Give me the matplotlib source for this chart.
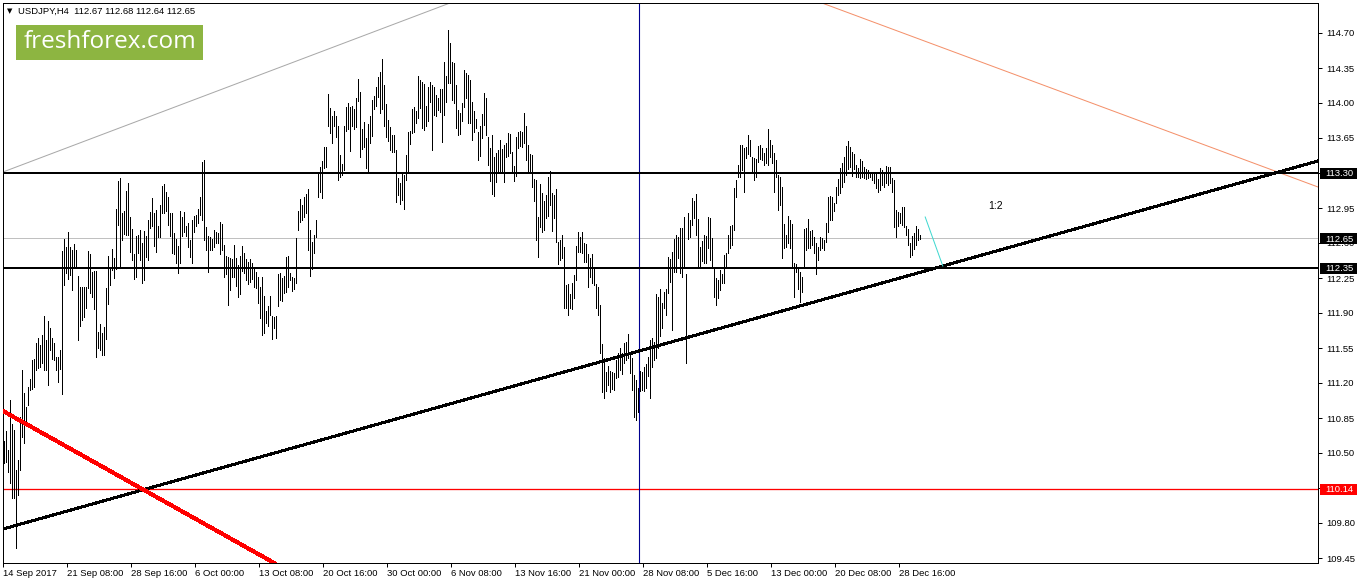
import matplotlib
matplotlib.use('Agg')
import matplotlib.pyplot as plt
from matplotlib.patches import Rectangle
import numpy as np

W, H, DPI = 1358, 584, 100

# ---- H4 bars (high / low) ----
bar_high = [
 110.62,110.72,110.53,111.03,110.79,110.73,110.33,110.43,110.86,111.33,
 111.10,110.96,111.16,111.24,111.43,111.44,111.60,111.65,111.58,111.68,
 111.87,111.63,111.82,111.75,111.65,111.60,111.46,111.46,111.53,112.52,
 112.64,112.56,112.71,112.56,112.53,112.59,112.53,112.27,112.16,112.16,
 112.16,112.16,112.52,112.49,112.31,112.32,112.32,111.71,111.79,111.70,
 111.76,112.15,112.47,112.36,112.54,112.45,112.94,113.22,113.25,112.90,
 112.92,113.12,113.20,112.86,112.74,112.49,112.67,112.68,112.73,112.60,
 112.72,112.67,112.83,112.91,113.05,112.90,112.93,112.77,112.98,113.17,
 113.19,113.11,113.06,112.90,112.90,112.70,112.64,112.57,112.92,112.86,
 112.91,112.77,112.80,112.63,112.83,112.87,112.88,112.94,113.06,113.41,
 113.43,112.76,112.67,112.66,112.64,112.73,112.71,112.70,112.81,112.79,
 112.58,112.47,112.46,112.45,112.44,112.58,
 112.45,112.38,112.47,112.57,112.50,112.44,112.41,112.44,112.40,112.35,
 112.31,112.26,112.16,112.26,112.07,111.92,111.97,112.07,111.87,111.86,
 111.87,112.29,112.30,112.25,112.27,112.46,112.47,112.30,112.26,112.25,
 112.65,112.92,113.04,112.98,113.06,113.09,113.14,112.73,112.61,112.68,
 112.83,113.31,113.36,113.42,113.56,113.56,114.09,113.95,113.87,113.92,
 113.87,113.77,113.48,113.39,113.77,113.96,114.00,113.96,113.97,113.94,
 114.05,114.24,114.11,113.74,113.81,113.65,113.79,113.87,114.03,114.07,
 114.16,114.26,114.31,114.44,114.18,113.99,113.83,113.76,113.68,113.68,
 113.53,113.25,113.20,113.30,113.28,113.48,113.71,113.72,113.94,113.96,
 113.92,114.27,114.23,114.21,114.19,113.97,114.16,114.21,114.18,114.16,
 114.08,114.05,114.14,114.14,114.41,114.27,114.73,114.60,114.41,114.40,
 114.18,113.93,113.90,114.00,114.33,114.30,114.28,114.23,
 114.01,113.92,113.84,113.71,113.77,113.89,114.10,114.05,113.66,113.55,
 113.68,113.46,113.50,113.53,113.63,113.54,113.58,113.60,113.70,113.69,
 113.51,113.37,113.66,113.71,113.72,113.71,113.90,113.77,113.58,113.49,
 113.48,113.24,113.23,112.86,113.19,113.10,113.02,113.08,113.26,113.32,
 113.10,113.08,113.14,112.61,112.63,112.68,112.56,112.18,112.19,112.09,
 112.20,112.28,112.57,112.71,112.66,112.71,112.60,112.59,112.49,112.45,
 112.49,112.35,112.19,112.16,111.98,111.59,111.45,111.31,111.37,111.32,
 111.31,111.30,111.43,111.50,111.55,111.50,111.60,111.61,111.69,111.50,
 111.45,111.28,111.23,111.15,111.32,111.31,111.36,111.39,111.46,111.63,
 111.65,111.61,112.09,112.06,112.14,112.00,112.11,112.14,112.46,112.44,
 112.51,112.64,112.68,112.66,112.75,112.75,112.86,112.29,112.90,112.83,
 113.05,113.02,113.09,112.84,112.56,112.62,112.68,112.67,
 112.86,112.85,112.65,112.36,112.25,112.23,112.33,112.29,112.48,112.50,
 112.68,112.77,112.78,113.15,113.23,113.38,113.58,113.58,113.55,113.56,
 113.68,113.63,113.46,113.45,113.44,113.57,113.58,113.55,113.50,113.55,
 113.74,113.63,113.58,113.50,113.43,113.28,113.26,113.16,112.79,112.68,
 112.87,112.83,112.79,112.40,112.39,112.36,112.31,112.26,112.74,112.75,
 112.84,112.72,112.73,112.66,112.60,112.56,112.66,112.65,112.63,112.80,
 113.06,113.07,113.06,113.00,113.16,113.24,113.35,113.40,113.46,113.57,
 113.62,113.56,113.51,113.49,113.38,113.35,113.44,113.42,113.36,113.34,
 113.33,113.31,113.31,113.30,113.29,113.24,113.35,113.33,113.30,113.37,
 113.36,113.36,113.25,113.23,112.93,112.91,112.90,112.96,112.96,112.77,
 112.74,112.60,112.67,112.70,112.77,112.74,112.68,
]
bar_low = [
 110.40,110.41,110.31,110.20,110.05,110.05,109.55,110.08,110.33,110.66,
 110.60,110.82,110.98,111.13,111.14,111.16,111.33,111.35,111.36,111.40,
 111.33,111.33,111.18,111.53,111.44,111.43,111.33,111.21,111.34,111.09,
 112.18,112.30,112.24,112.28,112.13,112.36,112.35,111.63,111.77,111.83,
 111.86,111.95,112.15,112.10,112.06,111.94,111.46,111.55,111.53,111.48,
 111.48,111.64,111.99,112.18,112.33,112.25,112.34,112.78,112.36,112.63,
 112.69,112.68,112.68,112.51,112.43,112.24,112.26,112.50,112.43,112.20,
 112.23,112.46,112.43,112.75,112.77,112.57,112.51,112.66,112.66,112.90,
 112.90,112.92,112.78,112.67,112.50,112.49,112.40,112.30,112.40,112.67,
 112.71,112.67,112.56,112.46,112.40,112.71,112.77,112.80,112.88,112.83,
 112.63,112.53,112.31,112.53,112.53,112.56,112.60,112.60,112.49,112.53,
 112.26,112.29,111.98,112.13,112.26,112.26,
 112.17,112.06,112.09,112.32,112.30,112.23,112.19,112.21,112.24,112.16,
 112.15,112.00,111.85,111.68,111.70,111.80,111.77,111.88,111.64,111.75,
 111.65,111.97,112.03,112.02,112.10,112.11,112.16,112.23,112.12,112.14,
 112.20,112.73,112.81,112.83,112.86,112.90,112.53,112.27,112.34,112.50,
 112.66,113.06,113.11,113.05,113.35,113.36,113.77,113.70,113.60,113.77,
 113.66,113.23,113.26,113.28,113.33,113.72,113.74,113.52,113.77,113.74,
 113.76,114.02,113.46,113.54,113.56,113.35,113.32,113.60,113.67,113.94,
 113.97,114.06,113.90,113.94,113.77,113.66,113.62,113.53,113.51,113.51,
 113.01,113.08,112.99,113.03,112.94,113.23,113.31,113.59,113.70,113.71,
 113.80,113.85,113.95,113.75,113.73,113.77,113.82,114.01,113.53,113.88,
 113.87,113.93,113.91,113.61,113.88,114.01,114.20,114.20,114.03,114.00,
 113.75,113.68,113.69,113.82,113.96,114.05,113.80,113.80,
 113.63,113.71,113.75,113.43,113.47,113.65,113.78,113.68,113.38,113.22,
 113.09,113.07,113.21,113.31,113.31,113.31,113.21,113.46,113.47,113.50,
 113.31,113.22,113.27,113.55,113.57,113.56,113.60,113.43,113.31,113.30,
 113.16,113.02,112.63,112.46,112.76,112.71,112.73,112.85,112.87,112.98,
 112.72,112.85,112.61,112.39,112.43,112.45,111.95,111.95,111.88,111.95,
 111.94,112.05,112.23,112.51,112.51,112.50,112.41,112.41,112.16,112.26,
 112.20,112.18,111.95,111.88,111.50,111.11,111.05,111.12,111.18,111.11,
 111.14,111.13,111.25,111.26,111.33,111.29,111.40,111.43,111.45,111.30,
 111.13,110.86,110.83,110.91,111.12,111.13,111.12,111.15,111.27,111.05,
 111.36,111.43,111.45,111.55,111.67,111.75,111.95,111.88,112.10,112.21,
 111.73,112.31,112.31,112.45,112.30,112.26,112.35,111.40,112.64,112.66,
 112.78,112.85,112.68,112.36,112.36,112.42,112.40,112.40,
 112.55,112.43,112.35,112.06,111.98,112.05,112.13,112.20,112.20,112.35,
 112.50,112.55,112.58,112.73,113.06,113.26,113.26,113.33,113.11,113.45,
 113.49,113.47,113.30,113.23,113.26,113.41,113.44,113.43,113.38,113.40,
 113.38,113.46,113.40,113.11,113.26,112.93,112.98,112.45,112.55,112.56,
 112.60,112.55,112.36,112.06,112.31,112.14,112.01,112.11,112.36,112.53,
 112.55,112.55,112.58,112.50,112.29,112.43,112.53,112.55,112.53,112.61,
 112.71,112.83,112.83,112.92,113.00,113.08,113.10,113.16,113.21,113.28,
 113.34,113.36,113.27,113.34,113.26,113.26,113.25,113.26,113.25,113.24,
 113.25,113.26,113.23,113.20,113.15,113.11,113.13,113.18,113.16,113.20,
 113.18,113.20,113.11,112.76,112.66,112.77,112.80,112.78,112.76,112.68,
 112.58,112.46,112.48,112.54,112.58,112.63,112.64,
]

date_labels = ['14 Sep 2017', '21 Sep 08:00', '28 Sep 16:00', '6 Oct 00:00',
               '13 Oct 08:00', '20 Oct 16:00', '30 Oct 00:00', '6 Nov 08:00',
               '13 Nov 16:00', '21 Nov 00:00', '28 Nov 08:00', '5 Dec 16:00',
               '13 Dec 00:00', '20 Dec 08:00', '28 Dec 16:00']
bars_per_label = 32
price_ticks = [114.70, 114.35, 114.00, 113.65, 113.30, 112.95, 112.60, 112.25,
               111.90, 111.55, 111.20, 110.85, 110.50, 110.15, 109.80, 109.45]

levels_black = [113.30, 112.35]
last_price = 112.65
level_red = 110.14
trend_black = [(-0.5, 109.74), (657.0, 113.42)]
trend_red = [(-0.5, 110.92), (115.5, 109.62)]
trend_gray = [(-0.5, 113.31), (223.0, 115.00)]
trend_orange = [(409.0, 115.00), (657.0, 113.16)]
seg_cyan = [(460.6, 112.86), (469.4, 112.37)]
vline_bar = 317.5
ratio_text = ('1:2', 492.0, 112.97)
header = 'USDJPY,H4  112.67 112.68 112.64 112.65'
marks = [(113.30, 'black'), (112.65, 'black'), (112.35, 'black'), (110.14, '#ff0000')]

plt.rcParams['font.family'] = ['Liberation Sans', 'DejaVu Sans']
FS = 6.8
PX = 72.0 / DPI

fig = plt.figure(figsize=(W / DPI, H / DPI), dpi=DPI)
fig.patch.set_facecolor('white')
ax = fig.add_axes([3 / W, 21 / H, 1315 / W, 560 / H])
ax.set_facecolor('white')

n = min(len(bar_high), len(bar_low))
xs = np.arange(n)
ax.set_xlim(-0.5, 657.0)
ax.set_ylim(109.40, 115.00)

# drawn objects
ax.axline(trend_gray[0], trend_gray[1], color='#a8a8a8', lw=PX, zorder=1)
ax.axline(trend_orange[0], trend_orange[1], color='#f4906a', lw=PX, zorder=1)
ax.axhline(last_price, color='#c0c0c0', lw=PX, zorder=1)
ax.axhline(level_red, color='#ff0000', lw=1.3 * PX, zorder=1)
ax.axvline(vline_bar, color='#000090', lw=1.1 * PX, zorder=1)

ax.vlines(xs, bar_low[:n], bar_high[:n], colors='black', linewidth=PX,
          antialiased=False, zorder=2)

for lv in levels_black:
    ax.axhline(lv, color='black', lw=2 * PX, zorder=3, antialiased=False)
ax.axline(trend_black[0], trend_black[1], color='black', lw=2 * PX, zorder=3, antialiased=False)
ax.axline(trend_red[0], trend_red[1], color='#ff0000', lw=3 * PX, zorder=3, antialiased=False)
ax.plot([p[0] for p in seg_cyan], [p[1] for p in seg_cyan], color='#3fd8d0', lw=PX, zorder=3)
ax.text(ratio_text[1], ratio_text[2], ratio_text[0], fontsize=7.5, color='black',
        ha='left', va='center')

# axes
for s in ax.spines.values():
    s.set_color('black')
    s.set_linewidth(PX)
ax.yaxis.tick_right()
ax.set_yticks(price_ticks)
ax.set_yticklabels([f'{v:.2f}' for v in price_ticks])
ax.set_xticks([bars_per_label * k - 0.5 for k in range(len(date_labels))])
ax.set_xticklabels(date_labels)
for lbl in ax.get_xticklabels():
    lbl.set_ha('left')
ax.tick_params(axis='y', direction='out', length=3, width=PX, pad=3, labelsize=FS, colors='black')
ax.tick_params(axis='x', direction='out', length=3, width=PX, pad=1.5, labelsize=FS, colors='black')

# price marks on the scale
for val, bg in marks:
    yd = ax.transData.transform((0, val))[1]
    fig.add_artist(Rectangle((1320 / W, (yd - 5.5) / H), 37 / W, 11 / H,
                             transform=fig.transFigure, facecolor=bg, edgecolor='none', zorder=5))
    fig.text(1325 / W, yd / H, f'{val:.2f}', color='white', fontsize=FS,
             ha='left', va='center_baseline', zorder=6)

# header and logo
fig.text(7 / W, 1 - 11 / H, '\u25bc', fontsize=5, family=['DejaVu Sans'], va='center', ha='left', color='black')
fig.text(18 / W, 1 - 11 / H, header, fontsize=FS, va='center', ha='left', color='black')
fig.add_artist(Rectangle((16 / W, 1 - 60 / H), 187 / W, 35 / H, transform=fig.transFigure,
                         facecolor='#8db541', edgecolor='none', zorder=5))
fig.text(109.5 / W, 1 - 42.5 / H, 'freshforex.com', color='white', fontsize=17.5,
         family=['Open Sans', 'DejaVu Sans'], ha='center', va='center', zorder=6)

fig.savefig('out.png', dpi=DPI, facecolor='white')
